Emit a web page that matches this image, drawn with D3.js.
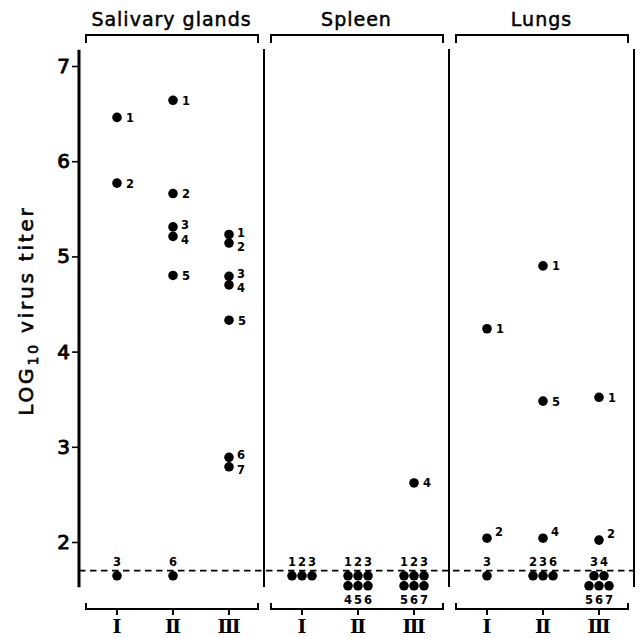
<!DOCTYPE html>
<html><head><meta charset="utf-8">
<script src="https://cdn.jsdelivr.net/npm/d3@7"></script>
<style>body{margin:0;background:#fff} svg{display:block}</style>
</head><body><svg id="chart" width="640" height="638"></svg>
<script>
const organs = ["Salivary glands", "Spleen", "Lungs"];
const groups = ["Ⅰ", "Ⅱ", "Ⅲ"];
const yTickValues = [2, 3, 4, 5, 6, 7];
const axisExtent = [1.525, 7.17];
const detectionLimit = 1.7;
const undetectableLevels = [1.645, 1.54];

const salivaryMice   = [[1, 2], [1, 2, 3, 4, 5], [1, 2, 3, 4, 5, 6, 7]];
const salivaryTiters = [[6.46, 5.77], [6.64, 5.66, 5.31, 5.21, 4.80], [5.23, 5.14, 4.79, 4.70, 4.33, 2.89, 2.79]];
const salivaryUndetected = [[3], [6], []];

const spleenMice   = [[], [], [4]];
const spleenTiters = [[], [], [2.62]];
const spleenUndetected = [[1, 2, 3], [1, 2, 3, 4, 5, 6], [1, 2, 3, 5, 6, 7]];

const lungsMice   = [[1, 2], [1, 5, 4], [1, 2]];
const lungsTiters = [[4.24, 2.04], [4.90, 3.48, 2.04], [3.52, 2.02]];
const lungsUndetected = [[3], [2, 3, 6], [3, 4, 5, 6, 7]];

const organData = [
  {mice: salivaryMice, titers: salivaryTiters, undetected: salivaryUndetected},
  {mice: spleenMice, titers: spleenTiters, undetected: spleenUndetected},
  {mice: lungsMice, titers: lungsTiters, undetected: lungsUndetected}
];

const svg = d3.select("#chart");
const plotTop = 49, plotBottom = 587;
const xOrgan = d3.scaleBand().domain(organs).range([79, 634]).padding(0);
const xGroup = d3.scalePoint().domain(groups).range([38, 150]);
const y = d3.scaleLinear().domain([2, 7]).range([542, 66]);
const labelFont = "'DejaVu Sans', sans-serif";
const r = 4.8, step = 10;

// y axis
const ax = svg.append("g").attr("transform", "translate(79,0)")
  .call(d3.axisLeft(y).tickValues(yTickValues).tickSize(7).tickPadding(2).tickFormat(d3.format("d")));
ax.select(".domain").remove();
ax.selectAll(".tick line").attr("stroke", "#000").attr("stroke-width", 1.6);
ax.selectAll(".tick text").attr("font-family", labelFont).attr("font-size", 20).attr("fill", "#000")
  .attr("stroke", "#000").attr("stroke-width", 0.9);
svg.append("line").attr("x1", 79).attr("x2", 79).attr("y1", y(axisExtent[1])).attr("y2", y(axisExtent[0]))
  .attr("stroke", "#000").attr("stroke-width", 3);

// y label
const yl = svg.append("text").attr("transform", `translate(33,${(y(axisExtent[0]) + y(axisExtent[1])) / 2 - 8}) rotate(-90)`)
  .attr("text-anchor", "middle").attr("font-family", labelFont).attr("font-size", 20)
  .attr("stroke", "#000").attr("stroke-width", 0.6)
  .attr("letter-spacing", 2.8).attr("fill", "#000");
yl.append("tspan").text("LOG");
yl.append("tspan").attr("dy", 5).attr("font-size", 14).text("10");
yl.append("tspan").attr("dy", -5).text(" virus titer");

// dashed detection limit
svg.append("line").attr("x1", 79).attr("x2", 634).attr("y1", y(detectionLimit)).attr("y2", y(detectionLimit))
  .attr("stroke", "#000").attr("stroke-width", 1.8).attr("stroke-dasharray", "6.5,4.5");

organs.forEach((org, oi) => {
  const left = xOrgan(org), right = left + xOrgan.bandwidth();
  const g = svg.append("g");
  g.append("line").attr("x1", right).attr("x2", right).attr("y1", plotTop).attr("y2", plotBottom)
    .attr("stroke", "#000").attr("stroke-width", 2);
  g.append("path").attr("d", `M${left + 7},43V35H${right - 6}V43`).attr("fill", "none").attr("stroke", "#000").attr("stroke-width", 2);
  g.append("text").attr("x", (left + right) / 2).attr("y", 26).attr("text-anchor", "middle")
    .attr("font-family", labelFont).attr("font-size", 19).attr("letter-spacing", 1)
    .attr("stroke", "#000").attr("stroke-width", 0.5).attr("fill", "#000").text(org);
  g.append("path").attr("d", `M${left + 7},603V609H${right - 6}V603`).attr("fill", "none").attr("stroke", "#000").attr("stroke-width", 2);
  groups.forEach((grp, gi) => {
    const cx = left + xGroup(grp);
    g.append("line").attr("x1", cx).attr("x2", cx).attr("y1", 609).attr("y2", 615).attr("stroke", "#000").attr("stroke-width", 2);
    g.append("text").attr("x", cx).attr("y", 633).attr("text-anchor", "middle")
      .attr("font-family", "'DejaVu Serif', serif").attr("font-weight", "bold").attr("font-size", 19).attr("fill", "#000").text(grp);

    const d = organData[oi];
    const mice = d.mice[gi], vals = d.titers[gi], und = d.undetected[gi];
    mice.forEach((m, i) => {
      const v = vals[i];
      const cy = y(v);
      g.append("circle").attr("cx", cx).attr("cy", cy).attr("r", r).attr("fill", "#000");
      let dx = 9, dy = 4.5;
      const near = vals.filter((w, j) => j !== i && Math.abs(w - v) < 0.15);
      if (near.length && near[0] < v) { dx = 8; dy = 2; }
      else if (near.length && near[0] > v) { dx = 8; dy = 7.5; }
      else if (v - detectionLimit < 0.5 && und.length) { dx = 8; dy = -2; }
      g.append("text").attr("x", cx + dx).attr("y", cy + dy)
        .attr("font-family", labelFont).attr("font-weight", "bold").attr("font-size", 11.5).attr("fill", "#000").text(m);
    });
    if (und.length) {
      const rows = und.length <= 3 ? [und] : [und.slice(0, und.length - 3), und.slice(und.length - 3)];
      rows.forEach((row, ri) => {
        const cy = y(undetectableLevels[ri]);
        row.forEach((m, i) => {
          const px = cx + (i - (row.length - 1) / 2) * step;
          g.append("circle").attr("cx", px).attr("cy", cy).attr("r", r).attr("fill", "#000");
          const ty = (rows.length === 2 && ri === 1) ? cy + 18 : cy - 9.5;
          g.append("text").attr("x", px).attr("y", ty).attr("text-anchor", "middle")
            .attr("font-family", labelFont).attr("font-weight", "bold").attr("font-size", 11.5).attr("fill", "#000").text(m);
        });
      });
    }
  });
});
</script></body></html>
